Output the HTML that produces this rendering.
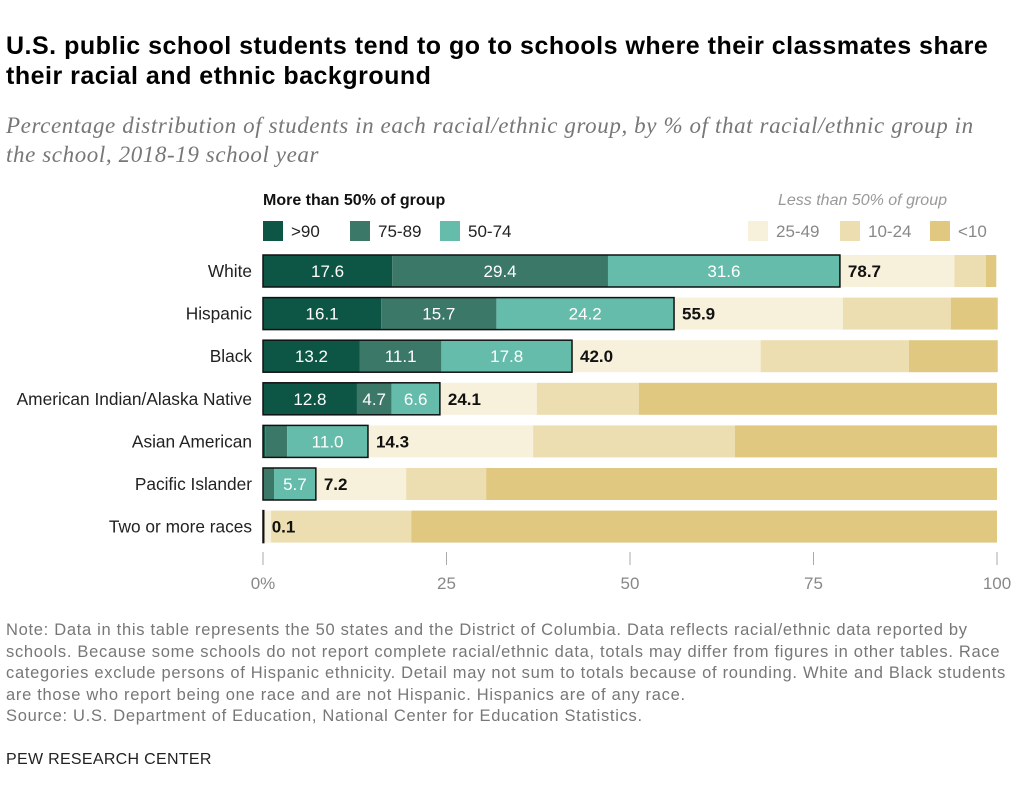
<!DOCTYPE html>
<html><head><meta charset="utf-8"><style>
body{margin:0;background:#fff;width:1024px;height:803px;overflow:hidden;font-family:"Liberation Sans",sans-serif}
.t{position:absolute;white-space:nowrap}
</style></head><body>
<div class="t" style="left:6px;top:31px;font-size:25px;letter-spacing:0.5px;font-weight:bold;color:#000;line-height:30px">U.S. public school students tend to go to schools where their classmates share<br>their racial and ethnic background</div>
<div class="t" style="left:6px;top:111px;font-family:'Liberation Serif',serif;font-style:italic;font-size:23px;letter-spacing:0.6px;color:#777;line-height:29px">Percentage distribution of students in each racial/ethnic group, by % of that racial/ethnic group in<br>the school, 2018-19 school year</div>
<svg id="c" width="1024" height="803" style="position:absolute;left:0;top:0"></svg>
<div class="t" style="left:6px;top:620px;font-size:16.5px;letter-spacing:0.7px;color:#777;line-height:21.5px">Note: Data in this table represents the 50 states and the District of Columbia. Data reflects racial/ethnic data reported by<br>schools. Because some schools do not report complete racial/ethnic data, totals may differ from figures in other tables. Race<br>categories exclude persons of Hispanic ethnicity. Detail may not sum to totals because of rounding. White and Black students<br>are those who report being one race and are not Hispanic. Hispanics are of any race.<br>Source: U.S. Department of Education, National Center for Education Statistics.</div>
<div class="t" style="left:6px;top:751px;font-size:16px;color:#222;letter-spacing:0.3px">PEW RESEARCH CENTER</div>
<script>
const categories=["White","Hispanic","Black","American Indian/Alaska Native","Asian American","Pacific Islander","Two or more races"];
const seriesNames=[">90","75-89","50-74","25-49","10-24","<10"];
const s90=[17.6,16.1,13.2,12.8,0.3,0.0,0.0];
const s75=[29.4,15.7,11.1,4.7,3.0,1.5,0.0];
const s50=[31.6,24.2,17.8,6.6,11.0,5.7,0.1];
const s25=[15.6,23.0,25.7,13.2,22.5,12.3,1.0];
const s10=[4.3,14.7,20.2,13.9,27.5,10.9,19.1];
const sLt=[1.4,6.4,12.1,48.8,35.7,69.6,79.8];
const totals=["78.7","55.9","42.0","24.1","14.3","7.2","0.1"];
const labels90=["17.6","16.1","13.2","12.8","","",""];
const labels75=["29.4","15.7","11.1","4.7","","",""];
const labels50=["31.6","24.2","17.8","6.6","11.0","5.7",""];
const ticks=[0,25,50,75,100];
const tickLabels=["0%","25","50","75","100"];
const colors=["#0d5545","#3b7868","#66bcab","#f7f0db","#ecdeb1","#e0c881"];
const svg=document.getElementById('c');const NS="http://www.w3.org/2000/svg";
const x=v=>263+v*7.34;const yc=i=>271+i*42.6;const bh=32;
function mk(t,a,p){const e=document.createElementNS(NS,t);for(const k in a)e.setAttribute(k,a[k]);(p||svg).appendChild(e);return e;}
const all=[s90,s75,s50,s25,s10,sLt];const lab=[labels90,labels75,labels50];
categories.forEach((c,i)=>{
 const g=mk('g',{});
 
 
 const cl=mk('text',{x:252,y:yc(i)+6,'text-anchor':'end','font-size':17.3,fill:'#222'},g);cl.textContent=c;
 
 
 let acc=0;
 all.forEach((s,k)=>{const v=s[i];
  const r=mk('rect',{x:x(acc),y:yc(i)-bh/2,width:Math.max(0,x(acc+v)-x(acc)),height:bh,fill:colors[k]},g);
  
  
  if(k<3&&lab[k][i]){const tt=mk('text',{x:(x(acc)+x(acc+v))/2,y:yc(i)+6,'text-anchor':'middle','font-size':17,fill:'#fff'},g);tt.textContent=lab[k][i];}
  acc+=v;});
 const maj=s90[i]+s75[i]+s50[i];
 const o=mk('rect',{x:x(0),y:yc(i)-bh/2,width:x(maj)-x(0),height:bh,fill:'none',stroke:'#111','stroke-width':1.5},g);
 
 
 const tl=mk('text',{x:x(maj)+8,y:yc(i)+6,'font-size':17,'font-weight':'bold',fill:'#111'},g);tl.textContent=totals[i];
 
 
});
ticks.forEach((t,j)=>{mk('line',{x1:x(t),x2:x(t),y1:552,y2:565,stroke:'#aaa'});
 const tt=mk('text',{x:x(t),y:589,'text-anchor':'middle','font-size':17,fill:'#888'});tt.textContent=tickLabels[j];
 
 });
const h1=mk('text',{x:263,y:205,'font-size':16,'font-weight':'bold',fill:'#111'});h1.textContent="More than 50% of group";


const h2=mk('text',{x:947,y:205,'text-anchor':'end','font-size':16,'font-style':'italic',fill:'#999'});h2.textContent="Less than 50% of group";


const lx=[263,350,440,748,840,930];
seriesNames.forEach((n,k)=>{const g=mk('g',{});
 
 
 mk('rect',{x:lx[k],y:221,width:20,height:20,fill:colors[k]},g);
 const t=mk('text',{x:lx[k]+28,y:237,'font-size':17,fill:k<3?'#222':'#888'},g);t.textContent=n;});
</script>
</body></html>
